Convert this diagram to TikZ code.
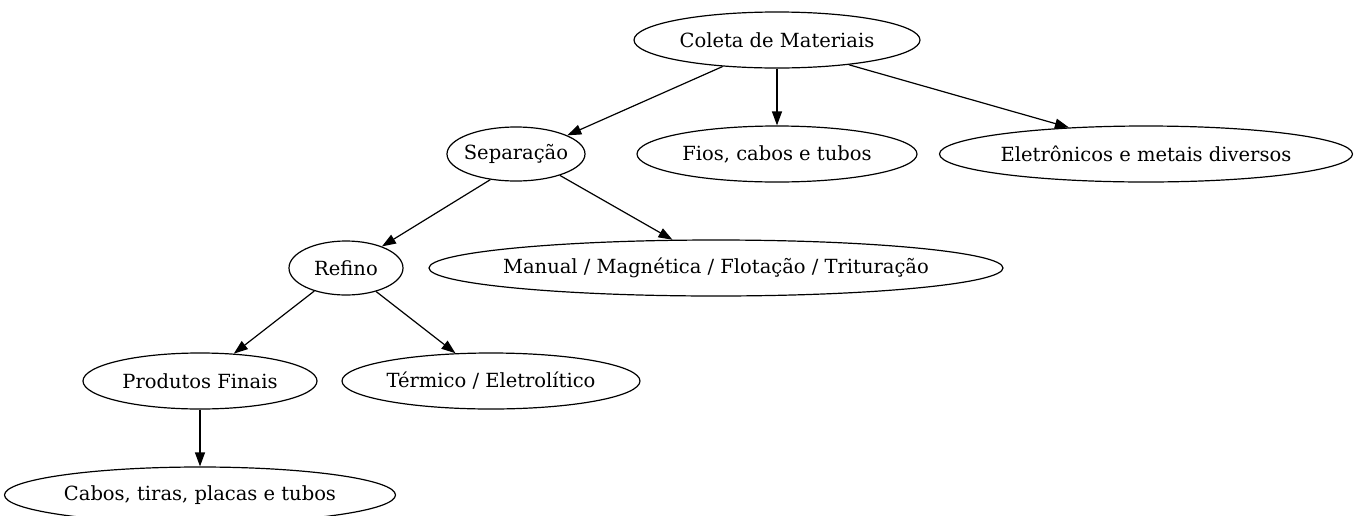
\documentclass[tikz,border=0pt]{standalone}
\usepackage{fontspec}
\setmainfont{DejaVu Serif}
\usetikzlibrary{shapes.geometric,arrows.meta}
\begin{document}
\begin{tikzpicture}[x=1pt,y=1pt,
  nd/.style={ellipse,draw,line width=1.2pt,inner sep=0pt,font=\fontsize{19.5}{22}\selectfont},
  ar/.style={line width=1.2pt,-{Triangle[length=14pt,width=10pt]}}]
\useasboundingbox (0,0) rectangle (1361,-515);
\node[nd,minimum width=286,minimum height=56] (coleta) at (777,-40) {Coleta de Materiais};
\node[nd,minimum width=138,minimum height=54,inner xsep=-4pt] (sep) at (516,-154) {Separação};
\node[nd,minimum width=280,minimum height=56] (fios) at (777,-154) {Fios, cabos e tubos};
\node[nd,minimum width=413,minimum height=56] (elet) at (1146,-154) {Eletrônicos e metais diversos};
\node[nd,minimum width=114,minimum height=54] (refino) at (346,-268) {Refino};
\node[nd,minimum width=574,minimum height=56,inner xsep=-10pt] (manual) at (716,-268) {Manual / Magnética / Flotação / Trituração};
\node[nd,minimum width=234,minimum height=56] (prod) at (200,-381) {Produtos Finais};
\node[nd,minimum width=298,minimum height=56] (term) at (491,-381) {Térmico / Eletrolítico};
\node[nd,minimum width=391,minimum height=56] (cabos) at (200,-495) {Cabos, tiras, placas e tubos};
\draw[ar] (coleta.206) -- (sep.20);
\draw[ar] (coleta.south) -- (fios.north);
\draw[ar] (coleta.341.6) -- (elet.161.6);
\draw[ar] (sep.225) -- (refino.31);
\draw[ar] (sep.334) -- (manual.147);
\draw[ar] (refino.216) -- (prod.39);
\draw[ar] (refino.322) -- (term.142);
\draw[ar] (prod.south) -- (cabos.north);
\end{tikzpicture}
\end{document}
